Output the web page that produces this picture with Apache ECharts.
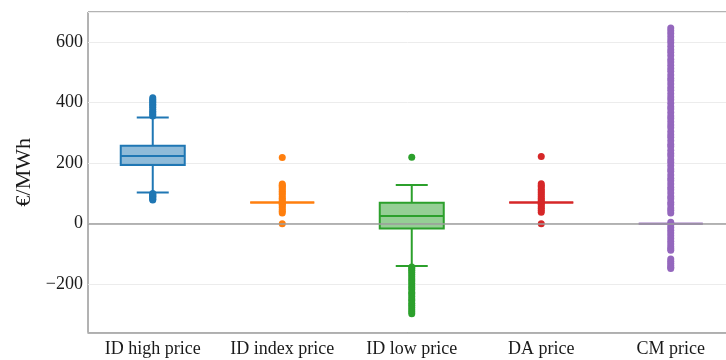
<!DOCTYPE html>
<html>
<head>
<meta charset="utf-8">
<script src="https://cdn.jsdelivr.net/npm/echarts@6/dist/echarts.min.js"></script>
<style>
  html, body { margin: 0; padding: 0; background: #fff; }
  #chart { width: 726px; height: 360px; }
</style>
</head>
<body>
<div id="chart"></div>
<script>
// Price categories along the x axis
const categories = ['ID high price', 'ID index price', 'ID low price', 'DA price', 'CM price'];
const colors = ['#1f77b4', '#ff7f0e', '#2ca02c', '#d62728', '#9467bd'];

// Box statistics per category: [lower whisker, Q1, median, Q3, upper whisker]
const idHighStats  = [103, 194, 224, 258, 351];
const idIndexStats = [70, 70, 70, 70, 70];
const idLowStats   = [-140, -16, 25, 69, 128];
const daStats      = [70, 70, 70, 70, 70];
const cmStats      = [0, 0, 0, 0, 0];

// Outlier prices (€/MWh) per category
const idHighOutliers = [78, 81, 85, 88, 91, 94, 97, 100, 356, 361, 367, 372, 378, 385, 390, 395, 401, 406, 411, 416];
const idIndexOutliers = [0, 35, 41, 46, 53, 58, 64, 67, 73, 78, 84, 89, 96, 101, 107, 112, 118, 123, 127, 131, 219];
const idLowOutliers = [220, -143, -148, -154, -161, -168, -176, -183, -190, -197, -205, -212, -219, -228, -233, -241,
                       -249, -255, -263, -270, -277, -285, -291, -298];
const daOutliers = [0, 38, 44, 51, 56, 63, 67, 73, 78, 84, 90, 96, 102, 108, 114, 121, 126, 132, 222];
const cmOutliers = [647, 638, 629, 618, 607, 598, 587, 575, 567, 556, 544, 535, 524, 513, 504, 492, 481, 473, 462,
                    450, 441, 430, 419, 410, 398, 387, 379, 368, 356, 348, 337, 326, 317, 305, 294, 286, 274, 263,
                    255, 243, 232, 224, 211, 203, 192, 181, 173, 161, 150, 142, 131, 120, 112, 101, 90, 82, 71,
                    63, 52, 44, 35, 5, -4, -13, -22, -31, -40, -49, -58, -67, -76, -83, -88, -117, -124, -131,
                    -138, -144, -148];

// Y-axis tick settings
const yMin = -360;
const yMax = 700;
const yStep = 200;

const allStats = [idHighStats, idIndexStats, idLowStats, daStats, cmStats];
const allOutliers = [idHighOutliers, idIndexOutliers, idLowOutliers, daOutliers, cmOutliers];

const FONT = '"Liberation Serif", "DejaVu Serif", serif';
const TEXT = '#1a1a1a';
const BOX_W = 64;
const CAP_W = 32;

function hexToRgba(hex, a) {
  const n = parseInt(hex.slice(1), 16);
  return 'rgba(' + ((n >> 16) & 255) + ',' + ((n >> 8) & 255) + ',' + (n & 255) + ',' + a + ')';
}

// Draws one box with half-width whisker caps
function renderBox(params, api) {
  const i = api.value(0);
  const color = colors[params.dataIndex];
  const pLo = api.coord([i, api.value(1)]);
  const pQ1 = api.coord([i, api.value(2)]);
  const pMed = api.coord([i, api.value(3)]);
  const pQ3 = api.coord([i, api.value(4)]);
  const pHi = api.coord([i, api.value(5)]);
  const cx = pMed[0];
  const line = { stroke: color, lineWidth: 2, fill: null };
  const children = [];
  if (pLo[1] !== pQ1[1]) {
    children.push({ type: 'line', shape: { x1: cx, y1: pQ1[1], x2: cx, y2: pLo[1] }, style: line });
    children.push({ type: 'line', shape: { x1: cx - CAP_W / 2, y1: pLo[1], x2: cx + CAP_W / 2, y2: pLo[1] }, style: line });
  }
  if (pHi[1] !== pQ3[1]) {
    children.push({ type: 'line', shape: { x1: cx, y1: pQ3[1], x2: cx, y2: pHi[1] }, style: line });
    children.push({ type: 'line', shape: { x1: cx - CAP_W / 2, y1: pHi[1], x2: cx + CAP_W / 2, y2: pHi[1] }, style: line });
  }
  children.push({
    type: 'rect',
    shape: { x: cx - BOX_W / 2, y: pQ3[1], width: BOX_W, height: pQ1[1] - pQ3[1] },
    style: { fill: hexToRgba(color, 0.5), stroke: color, lineWidth: 2 }
  });
  children.push({ type: 'line', shape: { x1: cx - BOX_W / 2, y1: pMed[1], x2: cx + BOX_W / 2, y2: pMed[1] }, style: line });
  return { type: 'group', children: children };
}

const boxData = allStats.map((s, i) => [i].concat(s));

const series = [{
  type: 'custom',
  renderItem: renderBox,
  data: boxData,
  encode: { x: 0, y: [1, 2, 3, 4, 5] },
  silent: true,
  z: 2,
  markLine: {
    silent: true,
    symbol: 'none',
    label: { show: false },
    lineStyle: { color: '#9e9e9e', width: 1.5, type: 'solid' },
    data: [{ yAxis: 0 }]
  }
}];

allOutliers.forEach((vals, i) => {
  series.push({
    type: 'scatter',
    data: vals.map(v => [i, v]),
    symbol: 'circle',
    symbolSize: 7,
    itemStyle: { color: colors[i], opacity: 1 },
    silent: true,
    z: 3
  });
});

const chart = echarts.init(document.getElementById('chart'), null, { renderer: 'canvas' });
chart.setOption({
  animation: false,
  backgroundColor: '#fff',
  grid: {
    left: 88, top: 12, width: 647.5, height: 320.5,
    outerBoundsMode: 'none',
    containLabel: false,
    show: true, borderColor: '#666', borderWidth: 1, backgroundColor: 'transparent'
  },
  xAxis: {
    type: 'category',
    data: categories,
    boundaryGap: true,
    axisLine: { show: true, onZero: false, lineStyle: { color: '#9a9a9a', width: 1.5 } },
    axisTick: { show: false },
    splitLine: { show: false },
    axisLabel: { fontFamily: FONT, fontSize: 18, color: TEXT, margin: 8, interval: 0 }
  },
  yAxis: {
    type: 'value',
    min: yMin, max: yMax,
    splitNumber: 5,
    minInterval: yStep, maxInterval: yStep,
    name: '€/MWh',
    nameLocation: 'middle',
    nameGap: 52,
    nameTextStyle: { fontFamily: FONT, fontSize: 22, color: TEXT },
    axisLine: { show: false },
    axisTick: { show: false },
    splitLine: { show: true, lineStyle: { color: '#ececec', width: 1 } },
    axisLabel: {
      fontFamily: FONT, fontSize: 18, color: TEXT, margin: 5,
      showMinLabel: false, showMaxLabel: false,
      formatter: v => String(v).replace('-', '\u2212')
    }
  },
  series: series
});
</script>
</body>
</html>
